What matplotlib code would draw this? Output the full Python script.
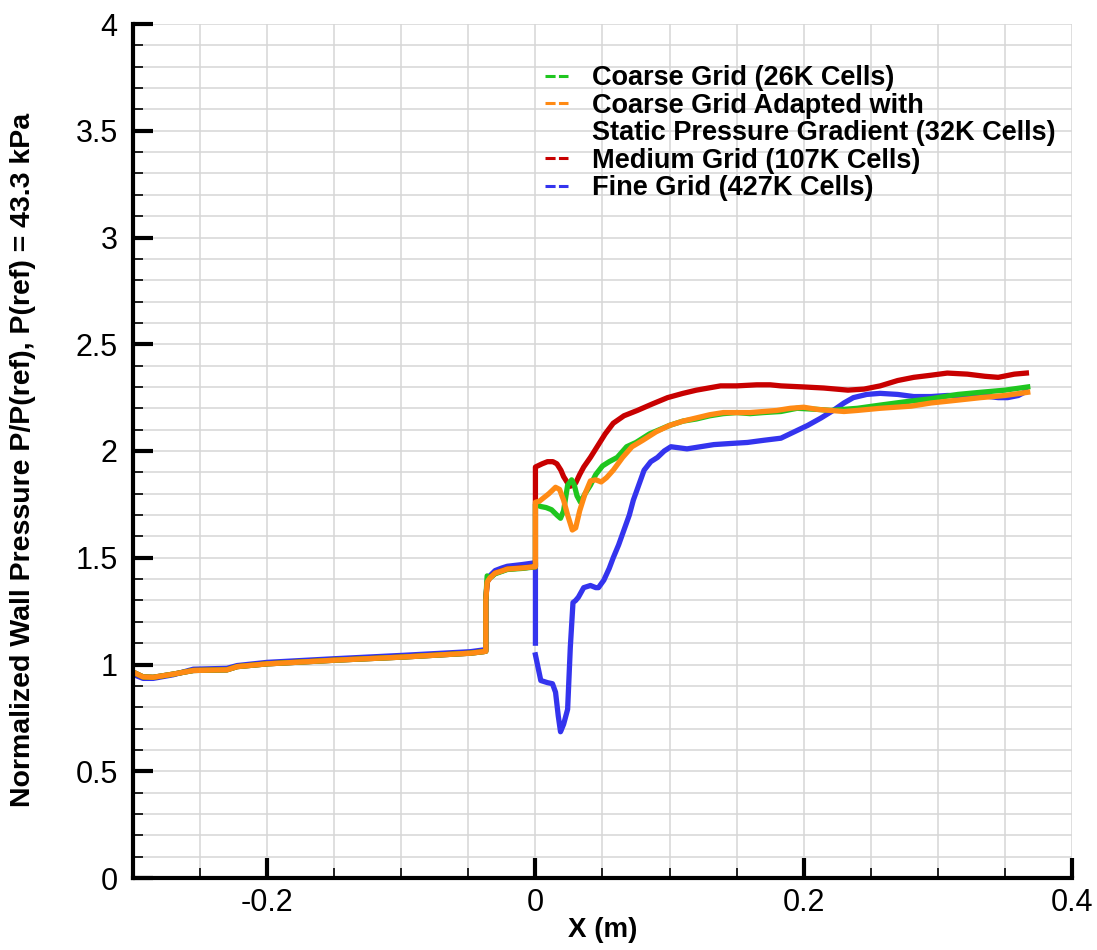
"""Normalized wall pressure along the wall: grid-convergence comparison."""

import matplotlib
matplotlib.use("Agg")
import matplotlib.pyplot as plt
import numpy as np
from matplotlib.lines import Line2D
from matplotlib.ticker import MultipleLocator, FuncFormatter

plt.rcParams["font.family"] = ["Liberation Sans", "DejaVu Sans"]

# upstream wall (all grids collapse onto one curve here)
UP_X = [-0.300, -0.2985, -0.2925, -0.285, -0.270, -0.255, -0.230, -0.2224, -0.200,
        -0.150, -0.0985, -0.0485, -0.039, -0.037]
UP_Y = [0.965, 0.960, 0.942, 0.940, 0.955, 0.972, 0.975, 0.990, 1.003,
        1.020, 1.035, 1.053, 1.060, 1.062]
UP_Y_FINE = [0.960, 0.950, 0.935, 0.935, 0.952, 0.978, 0.982, 0.995, 1.010,
             1.027, 1.043, 1.060, 1.068, 1.070]

# first step (x = -0.037) up to the second step at x = 0
MID_X = [-0.037, -0.036, -0.034, -0.030, -0.025, -0.021, -0.010, -0.002, 0.0]
MID_Y = [1.300, 1.386, 1.405, 1.428, 1.438, 1.447, 1.452, 1.457, 1.458]
MID_Y_GREEN = [1.300, 1.415, 1.405, 1.425, 1.436, 1.445, 1.450, 1.456, 1.457]
MID_Y_FINE = [1.300, 1.390, 1.415, 1.440, 1.452, 1.460, 1.468, 1.475, 1.476]

# downstream of x = 0
COARSE_X = [0.0, 0.004, 0.008, 0.012, 0.016, 0.0187, 0.021, 0.024, 0.027, 0.029,
            0.031, 0.0336, 0.037, 0.041, 0.045, 0.050, 0.055, 0.061, 0.068, 0.075,
            0.085, 0.100, 0.110, 0.120, 0.130, 0.140, 0.150, 0.160, 0.170, 0.183,
            0.195, 0.210, 0.220, 0.240, 0.257, 0.275, 0.295, 0.315, 0.332, 0.350, 0.367]
COARSE_Y = [1.750, 1.740, 1.735, 1.725, 1.700, 1.685, 1.720, 1.840, 1.865, 1.840,
            1.790, 1.760, 1.800, 1.840, 1.890, 1.930, 1.950, 1.970, 2.020, 2.040,
            2.080, 2.120, 2.140, 2.150, 2.165, 2.175, 2.180, 2.175, 2.180, 2.185,
            2.200, 2.195, 2.190, 2.200, 2.215, 2.230, 2.245, 2.265, 2.275, 2.285, 2.300]

ADAPT_X = [0.0, 0.003, 0.006, 0.010, 0.015, 0.018, 0.021, 0.024, 0.0275, 0.030,
           0.033, 0.037, 0.041, 0.045, 0.049, 0.053, 0.058, 0.065, 0.072, 0.080,
           0.090, 0.100, 0.110, 0.120, 0.130, 0.140, 0.150, 0.160, 0.170, 0.180,
           0.190, 0.200, 0.210, 0.220, 0.230, 0.240, 0.257, 0.280, 0.295, 0.310,
           0.332, 0.350, 0.367]
ADAPT_Y = [1.760, 1.765, 1.780, 1.800, 1.830, 1.820, 1.770, 1.700, 1.630, 1.640,
           1.720, 1.800, 1.860, 1.865, 1.855, 1.875, 1.910, 1.970, 2.020, 2.050,
           2.090, 2.120, 2.140, 2.155, 2.170, 2.180, 2.180, 2.180, 2.185, 2.190,
           2.200, 2.205, 2.195, 2.190, 2.185, 2.190, 2.200, 2.210, 2.225, 2.235,
           2.250, 2.260, 2.275]

MEDIUM_X = [0.0, 0.005, 0.009, 0.013, 0.016, 0.019, 0.021, 0.024, 0.026, 0.028,
            0.030, 0.033, 0.036, 0.041, 0.046, 0.052, 0.058, 0.066, 0.076, 0.087,
            0.0985, 0.110, 0.120, 0.138, 0.150, 0.165, 0.175, 0.183, 0.200, 0.215,
            0.233, 0.245, 0.257, 0.270, 0.282, 0.295, 0.307, 0.322, 0.335, 0.345,
            0.357, 0.366]
MEDIUM_Y = [1.925, 1.940, 1.950, 1.950, 1.940, 1.910, 1.880, 1.850, 1.835, 1.840,
            1.850, 1.890, 1.925, 1.970, 2.020, 2.080, 2.130, 2.165, 2.190, 2.220,
            2.250, 2.270, 2.285, 2.305, 2.305, 2.310, 2.310, 2.305, 2.300, 2.295,
            2.285, 2.290, 2.305, 2.330, 2.345, 2.355, 2.365, 2.360, 2.350, 2.345,
            2.360, 2.365]

# fine grid drops at x = 0 (small gap in the plotted trace near 1.07)
FINE_X = [0.0, 0.0, 0.0, 0.0, 0.004, 0.009, 0.0127, 0.015, 0.017, 0.0187,
          0.021, 0.024, 0.026, 0.028, 0.030, 0.032, 0.036, 0.041, 0.045, 0.047,
          0.051, 0.055, 0.058, 0.062, 0.066, 0.070, 0.073, 0.077, 0.081, 0.086,
          0.091, 0.096, 0.101, 0.113, 0.123, 0.133, 0.145, 0.158, 0.170, 0.183,
          0.193, 0.203, 0.213, 0.222, 0.230, 0.237, 0.247, 0.257, 0.270, 0.282,
          0.295, 0.307, 0.320, 0.332, 0.345, 0.352, 0.360, 0.366]
FINE_Y = [1.476, 1.100, np.nan, 1.045, 0.925, 0.915, 0.910, 0.870, 0.760, 0.685,
          0.720, 0.790, 1.080, 1.290, 1.300, 1.315, 1.360, 1.370, 1.360, 1.360,
          1.395, 1.450, 1.500, 1.560, 1.630, 1.700, 1.770, 1.840, 1.910, 1.950,
          1.970, 2.000, 2.020, 2.010, 2.020, 2.030, 2.035, 2.040, 2.050, 2.060,
          2.090, 2.120, 2.155, 2.190, 2.225, 2.250, 2.265, 2.270, 2.265, 2.255,
          2.255, 2.260, 2.260, 2.260, 2.250, 2.250, 2.260, 2.280]

LABELS = ["Coarse Grid (26K Cells)", "Coarse Grid Adapted with",
          "Static Pressure Gradient (32K Cells)", "Medium Grid (107K Cells)",
          "Fine Grid (427K Cells)"]
GREEN, ORANGE, RED, BLUE = "#1fc61f", "#ff8a14", "#c80000", "#3434ee"

fig = plt.figure(figsize=(10.97, 9.5), dpi=100)
ax = fig.add_axes([133 / 1097, 72 / 950, 939 / 1097, 854 / 950])

lw = 3.8
ax.plot(UP_X + MID_X + FINE_X, UP_Y_FINE + MID_Y_FINE + FINE_Y, color=BLUE, lw=lw)
ax.plot(UP_X + MID_X + MEDIUM_X, UP_Y + MID_Y + MEDIUM_Y, color=RED, lw=lw)
ax.plot(UP_X + MID_X + COARSE_X, UP_Y + MID_Y_GREEN + COARSE_Y, color=GREEN, lw=lw)
ax.plot(UP_X + MID_X + ADAPT_X, UP_Y + MID_Y + ADAPT_Y, color=ORANGE, lw=lw)

ax.set_xlim(-0.3, 0.4)
ax.set_ylim(0, 4)
ax.xaxis.set_major_locator(MultipleLocator(0.2))
ax.xaxis.set_minor_locator(MultipleLocator(0.05))
ax.yaxis.set_major_locator(MultipleLocator(0.5))
ax.yaxis.set_minor_locator(MultipleLocator(0.1))
fmt = FuncFormatter(lambda v, _: f"{v:.10g}" if abs(v) > 1e-9 else "0")
ax.xaxis.set_major_formatter(fmt)
ax.yaxis.set_major_formatter(fmt)

ax.grid(which="both", color="#d6d6d6", lw=1.1)
ax.set_axisbelow(True)
for s in ("top", "right"):
    ax.spines[s].set_visible(False)
for s in ("left", "bottom"):
    ax.spines[s].set_linewidth(3)
ax.tick_params(which="major", direction="in", length=14.5, width=3, labelsize=22)
ax.tick_params(which="minor", direction="in", length=7.5, width=1.2)
ax.tick_params(axis="y", which="major", pad=11)
ax.tick_params(axis="x", which="major", pad=7)

ax.set_ylabel("Normalized Wall Pressure P/P(ref), P(ref) = 43.3 kPa",
              fontsize=20.5, fontweight="bold")
ax.yaxis.set_label_coords(-0.103, 0.49)
ax.set_xlabel("X (m)", fontsize=20, fontweight="bold")
ax.xaxis.set_label_coords(0.5, -0.046)

dash = (0, (3.3, 1.1))
handles = [Line2D([], [], color=GREEN, lw=2.2, ls=dash),
           Line2D([], [], color=ORANGE, lw=2.2, ls=dash),
           Line2D([], [], color="none", lw=0),
           Line2D([], [], color=RED, lw=2.2, ls=dash),
           Line2D([], [], color=BLUE, lw=2.2, ls=dash)]
ax.legend(handles, LABELS, loc="upper left", bbox_to_anchor=(0.4388, 0.952),
          frameon=False, borderpad=0, borderaxespad=0, handlelength=0.86,
          handletextpad=0.86, labelspacing=0.06,
          prop={"size": 19.5, "weight": "bold"})

fig.savefig("out.png", dpi=100)
